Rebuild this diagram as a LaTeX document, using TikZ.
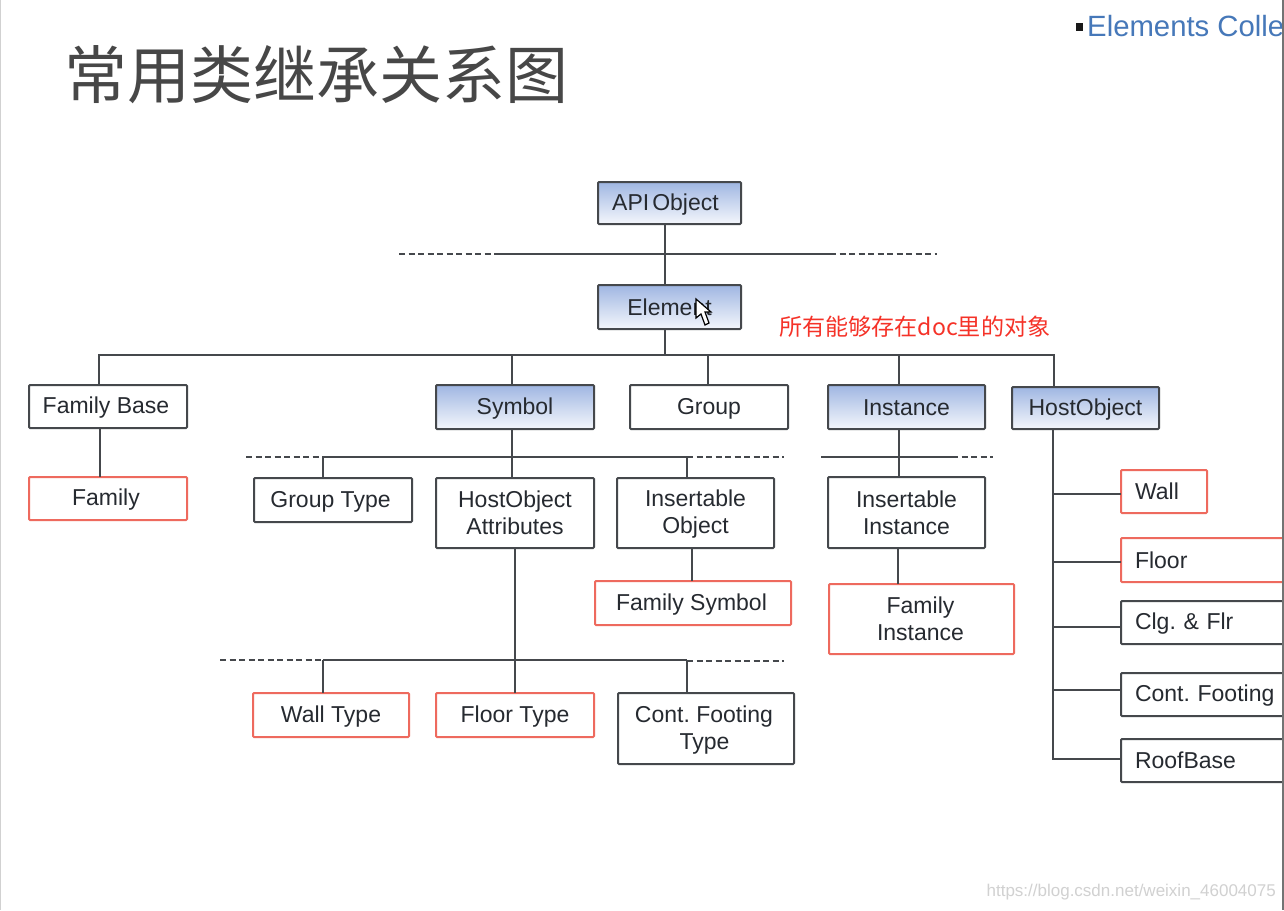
\documentclass[tikz,border=0pt]{standalone}
\usepackage{fontspec}
\setmainfont{Liberation Sans}
\newfontfamily\cjk{Noto Sans CJK SC}
\frenchspacing
\definecolor{linedark}{HTML}{45484C}
\definecolor{redbox}{HTML}{EE6A5E}
\definecolor{fillblue}{HTML}{9FB6E2}
\definecolor{txt}{HTML}{262A30}
\tikzset{
  x=1pt,y=-1pt,
  basebox/.style={draw=linedark,line width=2pt,outer sep=0pt,align=center,inner sep=0pt,text=txt,font=\fontsize{23}{27}\selectfont,rounded corners=1pt},
  plainbox/.style={basebox,fill=white},
  redframe/.style={basebox,draw=redbox,fill=white},
  bluebox/.style={basebox,top color=fillblue,bottom color=white!88!fillblue,middle color=fillblue!55!white},
  conn/.style={draw=linedark,line width=2pt},
  dashline/.style={draw=linedark,line width=2pt,dash pattern=on 6pt off 3.5pt},
}
\newcommand{\tstrut}{\rule{0pt}{19pt}}
\newcommand{\bstrut}{\rule[-2.6pt]{0pt}{2.6pt}}
\newcommand{\bx}[7]{\node[#1,minimum width=#5pt-#3pt,minimum height=#6pt-#4pt,anchor=north west] (#2) at (#3,#4) {\tstrut #7\bstrut};}
\newcommand{\lx}[7]{\node[#1,minimum width=#5pt-#3pt,minimum height=#6pt-#4pt,anchor=north west,align=left,inner xsep=14pt,text width=#5pt-#3pt-28pt] (#2) at (#3,#4) {\tstrut #7\bstrut};}
\begin{document}
\begin{tikzpicture}
\useasboundingbox (0,0) rectangle (1284,910);
\clip (0,0) rectangle (1284,910);
\fill[white] (0,0) rectangle (1284,910);
\draw[draw=black!18,line width=1.5pt] (0.5,0) -- (0.5,910);
% title
\node[anchor=west,inner sep=0pt,font=\cjk\fontsize{63}{63}\selectfont,text=black!72] (title) at (64,75) {常用类继承关系图};
\node[anchor=west,inner sep=0pt,text=black!90] (bul) at (1076,27) {\rule{7pt}{7pt}};
\node[anchor=west,inner sep=0pt,font=\fontsize{29.3}{32}\selectfont,text={rgb,255:red,70;green,120;blue,185}] (ec) at (1087,26) {Elements Colle};
% boxes
\bx{bluebox}{api}{598}{182}{741}{224}{\hspace{-8pt}API\hspace{3pt}Object}
\bx{bluebox}{elem}{598}{285}{741}{329}{Element}
\bx{plainbox}{fbase}{29}{385}{187}{428}{\hspace{-4pt}Family Base}
\bx{bluebox}{sym}{436}{385}{594}{429}{Symbol}
\bx{plainbox}{grp}{630}{385}{788}{429}{Group}
\bx{bluebox}{inst}{828}{385}{985}{429}{Instance}
\bx{bluebox}{host}{1012}{387}{1159}{429}{HostObject}
\bx{redframe}{fam}{29}{477}{187}{520}{\hspace{-4pt}Family}
\bx{plainbox}{gtype}{254}{478}{412}{522}{\hspace{-5pt}Group Type}
\bx{plainbox}{hattr}{436}{478}{594}{548}{HostObject\\Attributes}
\bx{plainbox}{iobj}{617}{478}{774}{548}{Insertable\\Object}
\bx{plainbox}{iinst}{828}{477}{985}{548}{Insertable\\Instance}
\bx{redframe}{fsym}{595}{581}{791}{625}{\hspace{-3pt}Family Symbol}
\bx{redframe}{finst}{829}{584}{1014}{654}{\hspace{-2pt}Family\\\hspace{-2pt}Instance}
\bx{redframe}{wtype}{253}{693}{409}{737}{Wall Type}
\bx{redframe}{ftype}{436}{693}{594}{737}{Floor Type}
\bx{plainbox}{cftype}{618}{693}{794}{764}{\hspace{-4pt}Cont. Footing\\\hspace{-3pt}Type}
\lx{redframe}{wall}{1121}{470}{1207}{513}{Wall}
\lx{redframe}{floor}{1121}{538}{1291}{582}{Floor}
\lx{plainbox}{clg}{1121}{601}{1291}{644}{Clg. \& Flr}
\lx{plainbox}{cf}{1121}{673}{1291}{716}{Cont. Footing}
\lx{plainbox}{roof}{1121}{739}{1291}{782}{RoofBase}
% annotation
\node[anchor=west,inner sep=0pt,font=\cjk\fontsize{23.1}{24}\selectfont,text={rgb,255:red,245;green,50;blue,40}] (note) at (779,327) {所有能够存在doc里的对象};
\node[anchor=east,inner sep=0pt,font=\fontsize{17}{19}\selectfont,text=black!18] (wm) at (1276,892) {https://blog.csdn.net/weixin\_46004075};
% API -> Element, bus
\coordinate (b1) at (665,254);
\draw[conn] (api.south -| b1) -- (elem.north -| b1);
\coordinate (b1l) at (499,254); \coordinate (b1r) at (830,254);
\coordinate (b1ld) at (399,254); \coordinate (b1rd) at (937,254);
\draw[conn] (b1l) -- (b1r);
\draw[dashline] (b1ld) -- (b1l);
\draw[dashline] (b1r) -- (b1rd);
% Element bus
\coordinate (b2) at (665,355);
\draw[conn] (elem.south -| b2) -- (b2);
\coordinate (b2l) at (99,355); \coordinate (b2r) at (1054,355);
\draw[conn,line cap=rect] (b2l) -- (b2r);
\draw[conn] (b2l) -- (b2l |- fbase.north);
\draw[conn] (512,355) coordinate (a1) -- (a1 |- sym.north);
\draw[conn] (708,355) coordinate (a2) -- (a2 |- grp.north);
\draw[conn] (899,355) coordinate (a3) -- (a3 |- inst.north);
\draw[conn] (b2r) -- (b2r |- host.north);
% family
\draw[conn] (100,428) coordinate (f0) -- (f0 |- fam.north);
% symbol bus
\coordinate (s0) at (512,457);
\draw[conn] (s0 |- sym.south) -- (s0 |- hattr.north);
\coordinate (s1) at (323,457); \coordinate (s2) at (687,457);
\coordinate (sl) at (246,457); \coordinate (sr) at (784,457);
\draw[dashline] (sl) -- (s1);
\draw[conn] (s1) -- (s2);
\draw[dashline] (s2) -- (sr);
\draw[conn] (s1) -- (s1 |- gtype.north);
\draw[conn] (s2) -- (s2 |- iobj.north);
% insertable object -> family symbol
\draw[conn] (692,548) coordinate (o0) -- (o0 |- fsym.north);
% instance
\coordinate (i0) at (899,457);
\draw[conn] (i0 |- inst.south) -- (i0 |- iinst.north);
\coordinate (il) at (821,457); \coordinate (ir) at (952,457); \coordinate (ird) at (993,457);
\draw[conn] (il) -- (ir);
\draw[dashline] (ir) -- (ird);
\draw[conn] (898,548) coordinate (o1) -- (o1 |- finst.north);
% hostobject attrs
\coordinate (t0) at (515,660);
\draw[conn] (t0 |- hattr.south) -- (t0 |- ftype.north);
\coordinate (t1) at (323,660); \coordinate (t2) at (687,660);
\coordinate (tl) at (220,660); \coordinate (tr) at (784,661);
\draw[dashline] (tl) -- (t1);
\draw[conn] (t1) -- (t2);
\draw[dashline] (t2 |- tr) -- (tr);
\draw[conn] (t1) -- (t1 |- wtype.north);
\draw[conn] (t2) -- (t2 |- cftype.north);
% host children
\coordinate (h0) at (1053,759);
\draw[conn,line cap=rect] (h0 |- host.south) -- (h0);
\draw[conn] (1053,494) coordinate (h1) -- (wall.west |- h1);
\draw[conn] (1053,562) coordinate (h2) -- (floor.west |- h2);
\draw[conn] (1053,627) coordinate (h3) -- (clg.west |- h3);
\draw[conn] (1053,690) coordinate (h4) -- (cf.west |- h4);
\draw[conn] (h0) -- (roof.west |- h0);
% cursor
\fill[white,draw=black,line width=1.2pt] (696,299) coordinate (cur) -- (696,318) -- (701,314) -- (705,325) -- (709,323) -- (705,312) -- (711,312) -- cycle;
% right edge of the slide
\draw[draw=black!55,line width=1.5pt] (1283,0) -- (1283,910);
\end{tikzpicture}
\end{document}
